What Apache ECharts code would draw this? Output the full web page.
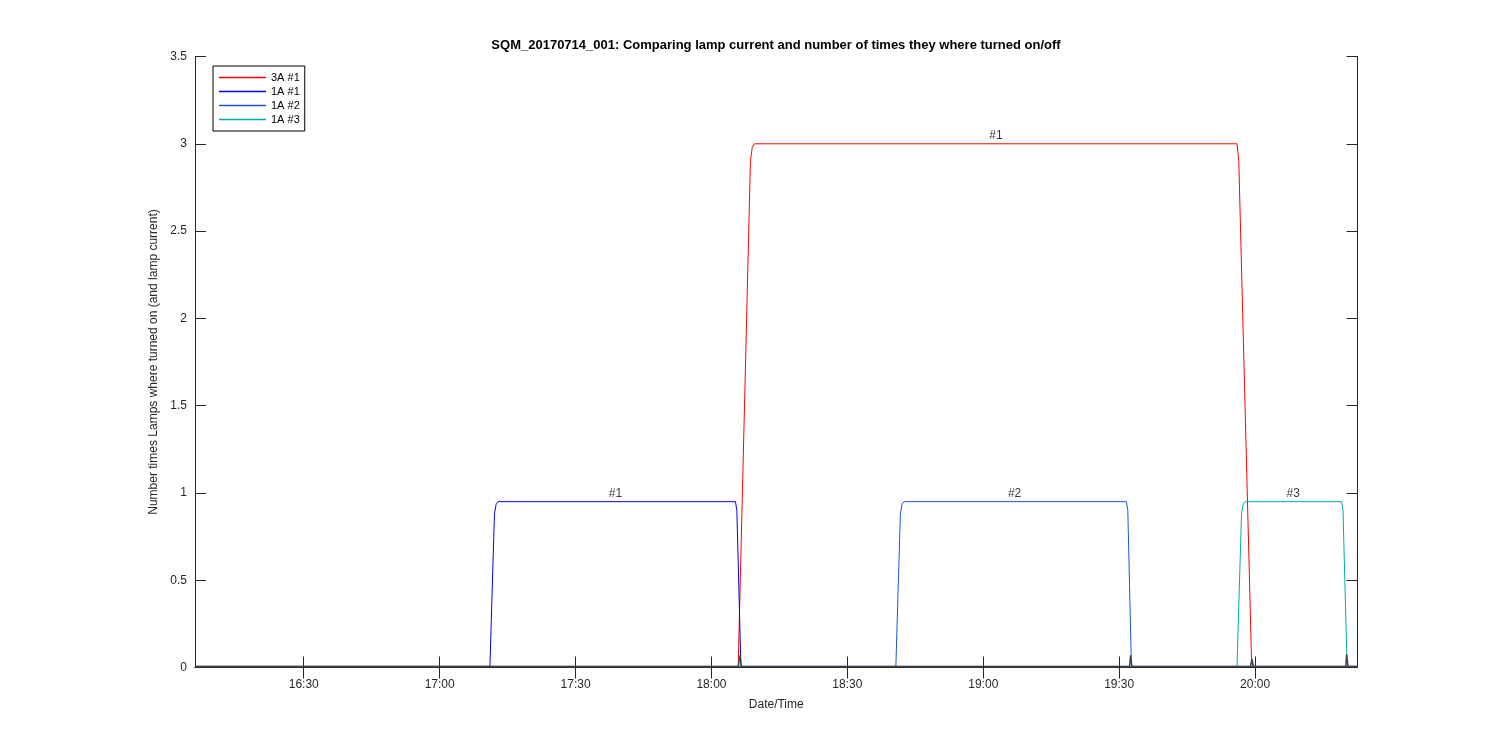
<!DOCTYPE html>
<html>
<head>
<meta charset="utf-8">
<script src="https://cdn.jsdelivr.net/npm/echarts@6/dist/echarts.min.js"></script>
<style>
  html, body { margin: 0; padding: 0; background: #fff; }
  #chart { width: 1500px; height: 750px; }
</style>
</head>
<body>
<div id="chart"></div>
<script>
// time in minutes since midnight (14.07.2017)
const xMin = 966.0
const xMax = 1222.6
const tickLabels = ['16:30', '17:00', '17:30', '18:00', '18:30', '19:00', '19:30', '20:00']

// 3A #1
const tRed = [966.0, 1085.9, 1088.6, 1089.0, 1089.5, 1196.0, 1196.4, 1199.2, 1199.6, 1222.6]
const vRed = [0.006, 0.006, 2.9, 2.98, 3.0, 3.0, 2.9, 0.05, 0.006, 0.006]
// 1A #1
const tBlue1 = [966.0, 1031.1, 1032.1, 1032.5, 1033.0, 1085.3, 1085.6, 1086.5, 1222.6]
const vBlue1 = [0.006, 0.006, 0.88, 0.94, 0.95, 0.95, 0.9, 0.006, 0.006]
// 1A #2
const tBlue2 = [966.0, 1120.7, 1121.7, 1122.1, 1122.6, 1171.6, 1171.9, 1172.7, 1222.6]
const vBlue2 = [0.006, 0.006, 0.88, 0.94, 0.95, 0.95, 0.9, 0.006, 0.006]
// 1A #3
const tCyan = [966.0, 1196.0, 1197.0, 1197.4, 1197.9, 1219.1, 1219.4, 1220.3, 1222.6]
const vCyan = [0.006, 0.006, 0.88, 0.94, 0.95, 0.95, 0.9, 0.006, 0.006]
// dark baseline (not in legend)
const tBase = [966.0, 1085.9, 1086.3, 1086.6, 1172.3, 1172.5, 1172.8, 1199.0, 1199.3, 1199.6, 1220.0, 1220.2, 1220.5, 1222.6]
const vBase = [0.006, 0.006, 0.07, 0.006, 0.006, 0.07, 0.006, 0.006, 0.05, 0.006, 0.006, 0.075, 0.006, 0.006]

// labels over the plateaus
const annoX = [1058.8, 1142.8, 1146.9, 1208.4]
const annoY = [0.95, 3.0, 0.95, 0.95]
const annoText = ['#1', '#1', '#2', '#3']

const toMin = s => { const p = s.split(':'); return +p[0] * 60 + +p[1] }
const fmt = m => {
  const h = Math.floor(m / 60), mm = Math.round(m - h * 60)
  return h + ':' + (mm < 10 ? '0' : '') + mm
}
const tickValues = tickLabels.map(toMin)
const zip = (t, v) => t.map((x, i) => [x, v[i]])

const axisColor = '#262626'
const font = "'Liberation Sans', Arial, sans-serif"

const lineSeries = (name, t, v, color) => ({
  name: name,
  type: 'line',
  symbol: 'none',
  data: zip(t, v),
  lineStyle: { color: color, width: 1 },
  itemStyle: { color: color }
})

let myEcharts = echarts.init(document.getElementById('chart'))
myEcharts.setOption({
  animation: false,
  textStyle: { fontFamily: font },
  grid: { left: 195, right: 142.5, top: 56.5, bottom: 82.5 },
  graphic: [
    {
      type: 'text',
      x: 776, y: 45,
      style: {
        text: 'SQM_20170714_001: Comparing lamp current and number of times they where turned on/off',
        font: 'bold 13px ' + font,
        fill: '#000',
        textAlign: 'center',
        textVerticalAlign: 'middle'
      }
    }
  ],
  legend: {
    orient: 'vertical',
    left: 213,
    top: 66,
    data: ['3A #1', '1A #1', '1A #2', '1A #3'],
    icon: 'rect',
    itemWidth: 47,
    itemHeight: 1.5,
    itemGap: 1,
    padding: [5, 5, 5, 6],
    borderColor: '#000',
    borderWidth: 1,
    borderRadius: 0,
    backgroundColor: '#fff',
    textStyle: { fontSize: 11, color: '#000', fontFamily: font, lineHeight: 13 }
  },
  xAxis: [
    {
      type: 'value',
      min: xMin,
      max: xMax,
      name: 'Date/Time',
      nameLocation: 'middle',
      nameGap: 31,
      nameTextStyle: { fontSize: 12, color: axisColor },
      axisLine: { lineStyle: { color: axisColor, width: 1 } },
      axisTick: { show: true, inside: true, length: 11, customValues: tickValues, lineStyle: { color: axisColor } },
      axisLabel: { customValues: tickValues, formatter: v => fmt(v), fontSize: 12, color: axisColor, margin: 11 },
      splitLine: { show: false }
    },
    {
      type: 'value',
      position: 'top',
      min: xMin,
      max: xMax,
      axisLine: { show: true, lineStyle: { color: axisColor, width: 1 } },
      axisTick: { show: true, inside: true, length: 11, customValues: tickValues, lineStyle: { color: axisColor } },
      axisLabel: { show: false },
      splitLine: { show: false }
    }
  ],
  yAxis: [
    {
      type: 'value',
      min: 0,
      max: 3.5,
      interval: 0.5,
      name: 'Number times Lamps where turned on (and lamp current)',
      nameLocation: 'middle',
      nameGap: 32,
      nameTextStyle: { fontSize: 12, color: axisColor },
      axisLine: { show: true, lineStyle: { color: axisColor, width: 1 } },
      axisTick: { show: true, inside: true, length: 11, lineStyle: { color: axisColor } },
      axisLabel: { fontSize: 12, color: axisColor, margin: 8, formatter: v => String(v) },
      splitLine: { show: false }
    },
    {
      type: 'value',
      position: 'right',
      min: 0,
      max: 3.5,
      interval: 0.5,
      axisLine: { show: true, lineStyle: { color: axisColor, width: 1 } },
      axisTick: { show: true, inside: true, length: 11, lineStyle: { color: axisColor } },
      axisLabel: { show: false },
      splitLine: { show: false }
    }
  ],
  series: [
    lineSeries('3A #1', tRed, vRed, '#ff0000'),
    lineSeries('1A #1', tBlue1, vBlue1, '#0000ee'),
    lineSeries('1A #2', tBlue2, vBlue2, '#1558d6'),
    lineSeries('1A #3', tCyan, vCyan, '#00aaaa'),
    {
      name: 'baseline',
      type: 'line',
      symbol: 'none',
      data: zip(tBase, vBase),
      lineStyle: { color: '#444', width: 1.5 },
      itemStyle: { color: '#444' },
      z: 3
    },
    {
      name: 'labels',
      type: 'scatter',
      symbolSize: 0,
      data: annoX.map((x, i) => ({ value: [x, annoY[i]], name: annoText[i] })),
      label: {
        show: true,
        position: 'top',
        distance: 2,
        formatter: p => p.name,
        fontSize: 12,
        color: '#000'
      },
      silent: true,
      z: 4
    }
  ]
})
</script>
</body>
</html>
